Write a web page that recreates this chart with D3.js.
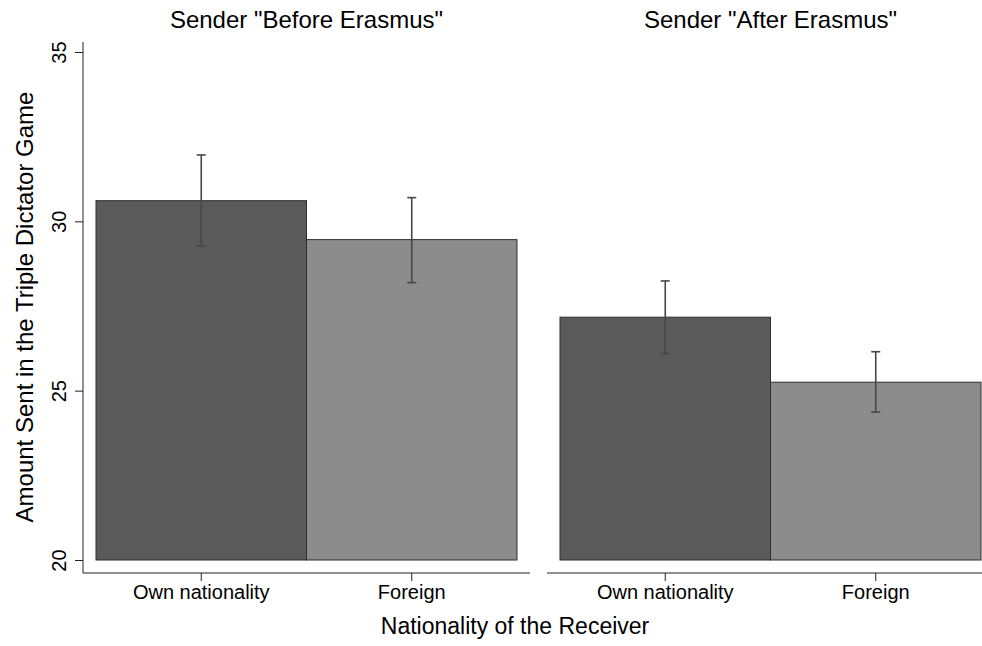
<!DOCTYPE html>
<html lang="en">
<head>
  <meta charset="UTF-8">
  <script src="https://d3js.org/d3.v7.min.js"></script>
  <style>
    body { margin: 0; background: white; }
    svg { font-family: "Liberation Sans", Arial, sans-serif; }
  </style>
</head>
<body>
  <div id="chart"></div>
  <script>
    // values
    const panels = ['Sender "Before Erasmus"', 'Sender "After Erasmus"'];
    const receivers = ["Own nationality", "Foreign"];
    const means = [[30.61, 29.46], [27.17, 25.25]];
    const upper = [[31.96, 30.70], [28.24, 26.15]];
    const lower = [[29.27, 28.19], [26.09, 24.37]];
    const yTicks = [20, 25, 30, 35];
    const colors = ["#5a5a5a", "#8c8c8c"];

    const width = 982, height = 646;
    const svg = d3.select("#chart").append("svg")
      .attr("width", width).attr("height", height);

    const y = d3.scaleLinear().domain([20, 35]).range([560, 52]);

    // panel left edges of the axis line and bar area
    const panelX = [83, 547];
    const panelW = 447;
    const pad = 13;

    // y axis
    const yAxis = d3.axisLeft(y).tickValues(yTicks).tickSize(8).tickSizeOuter(0);
    const gy = svg.append("g").attr("transform", `translate(${panelX[0]},0)`).call(yAxis);
    gy.select(".domain").remove();
    gy.append("line").attr("x1", 0).attr("x2", 0).attr("y1", 42).attr("y2", 573)
      .attr("stroke", "#222");
    gy.selectAll(".tick line").attr("stroke", "#222");
    gy.selectAll(".tick text")
      .attr("transform", "rotate(-90)")
      .attr("x", 0).attr("y", -17).attr("dy", 0)
      .attr("text-anchor", "middle")
      .attr("fill", "#000")
      .style("font-size", "20px")
      .style("font-family", "Liberation Sans, Arial, sans-serif");

    svg.append("text")
      .attr("transform", "translate(33,307) rotate(-90)")
      .attr("text-anchor", "middle")
      .style("font-size", "24px")
      .text("Amount Sent in the Triple Dictator Game");

    panels.forEach((p, i) => {
      const x0 = panelX[i];
      const x = d3.scaleBand().domain(receivers)
        .range([x0 + pad, x0 + panelW - pad]).padding(0);

      const g = svg.append("g");

      g.selectAll("rect.bar")
        .data(receivers)
        .enter().append("rect")
        .attr("class", "bar")
        .attr("x", d => x(d))
        .attr("width", x.bandwidth())
        .attr("y", (d, j) => y(means[i][j]))
        .attr("height", (d, j) => y(20) - y(means[i][j]))
        .attr("fill", (d, j) => colors[j])
        .attr("stroke", "#2e2e2e")
        .attr("stroke-width", 1);

      // error bars
      const eb = g.selectAll("g.err").data(receivers).enter().append("g")
        .attr("class", "err")
        .attr("stroke", "#474747")
        .attr("stroke-width", 1.6);
      eb.append("line")
        .attr("x1", d => x(d) + x.bandwidth() / 2)
        .attr("x2", d => x(d) + x.bandwidth() / 2)
        .attr("y1", (d, j) => y(lower[i][j]))
        .attr("y2", (d, j) => y(upper[i][j]));
      [upper, lower].forEach(arr => {
        eb.append("line")
          .attr("x1", d => x(d) + x.bandwidth() / 2 - 4.5)
          .attr("x2", d => x(d) + x.bandwidth() / 2 + 4.5)
          .attr("y1", (d, j) => y(arr[i][j]))
          .attr("y2", (d, j) => y(arr[i][j]));
      });

      // x axis
      const xAxis = d3.axisBottom(x).tickSize(8).tickSizeOuter(0).tickPadding(4);
      const gx = svg.append("g").attr("transform", "translate(0,573)").call(xAxis);
      gx.select(".domain").remove();
      gx.append("line").attr("x1", x0).attr("x2", x0 + panelW).attr("y1", 0).attr("y2", 0)
        .attr("stroke", "#222");
      gx.selectAll(".tick line").attr("stroke", "#222");
      gx.selectAll(".tick text")
        .attr("fill", "#000")
        .style("font-size", "20px")
        .style("font-family", "Liberation Sans, Arial, sans-serif");

      svg.append("text")
        .attr("x", x0 + panelW / 2)
        .attr("y", 28)
        .attr("text-anchor", "middle")
        .style("font-size", "24px")
        .text(p);
    });

    svg.append("text")
      .attr("x", 515)
      .attr("y", 634)
      .attr("text-anchor", "middle")
      .style("font-size", "23px")
      .text("Nationality of the Receiver");
  </script>
</body>
</html>
